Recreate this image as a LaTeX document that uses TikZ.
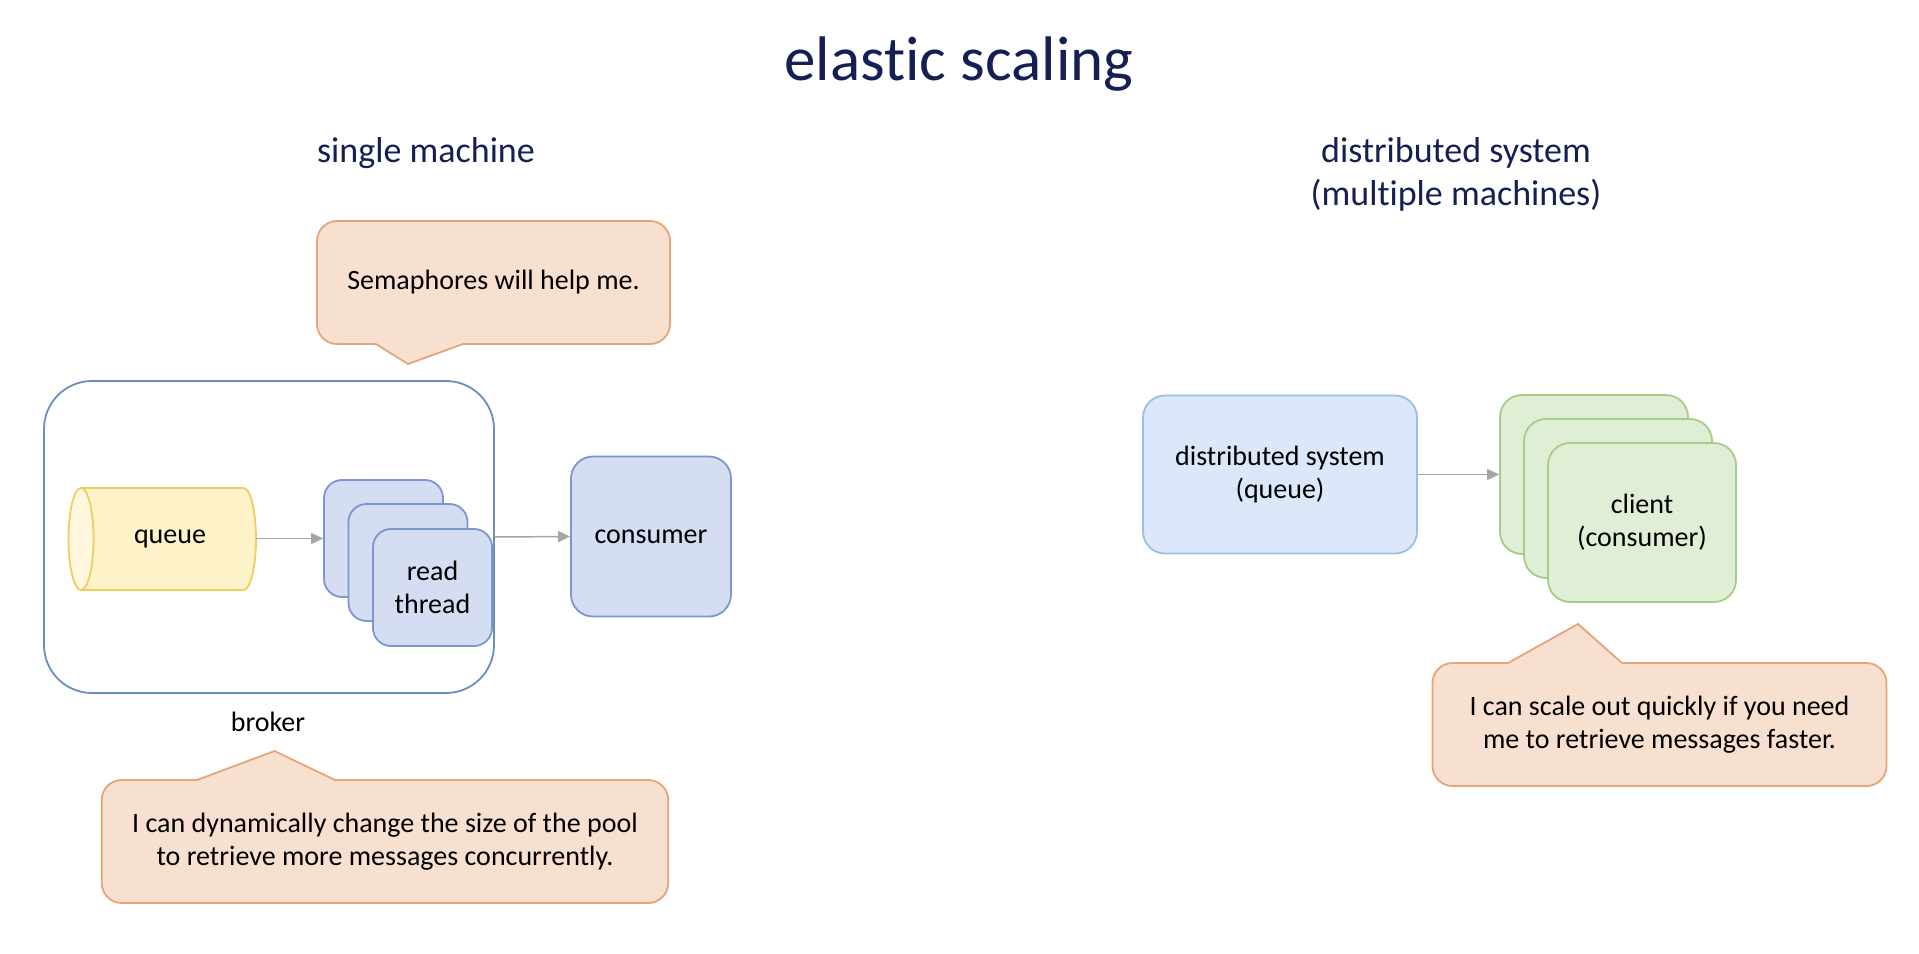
\documentclass[tikz,border=0pt]{standalone}
\usepackage{fontspec}
\setmainfont{Carlito}[Ligatures={NoCommon,NoContextual}]
\usetikzlibrary{arrows.meta}
\definecolor{navy}{RGB}{20,32,84}
\definecolor{cfill}{RGB}{248,224,208}
\definecolor{cline}{RGB}{230,165,120}
\definecolor{brokerline}{RGB}{108,142,191}
\definecolor{tfill}{RGB}{212,221,242}
\definecolor{tline}{RGB}{125,150,205}
\definecolor{dfill}{RGB}{218,232,250}
\definecolor{dline}{RGB}{160,188,228}
\definecolor{gfill}{RGB}{224,238,214}
\definecolor{gline}{RGB}{165,205,135}
\definecolor{qfill}{RGB}{253,242,200}
\definecolor{qend}{RGB}{255,247,222}
\definecolor{qline}{RGB}{240,205,95}
\definecolor{arrgray}{RGB}{165,165,165}
\begin{document}
\begin{tikzpicture}[x=1pt,y=-1pt,
  bodyfont/.style={font=\fontsize{28}{33}\selectfont},
  heading/.style={font=\fontsize{36}{43}\selectfont, text=navy},
  box/.style={draw, line width=1.8pt, rounded corners=20pt, inner sep=0pt, align=center, bodyfont},
  threadbox/.style={box, fill=tfill, draw=tline, minimum width=119pt, minimum height=117pt, rounded corners=18pt},
  greenbox/.style={box, fill=gfill, draw=gline, minimum width=188pt, minimum height=159pt, rounded corners=22pt},
  callbox/.style={box, fill=cfill, draw=cline},
  callline/.style={draw=cline, line width=1.8pt, line join=miter},
  arr/.style={draw=arrgray, line width=1.5pt, -{Triangle[length=12pt,width=11pt]}}]
\useasboundingbox (0,0) rectangle (1919,953);
\fill[white] (0,0) rectangle (1919,953);

% title and headings
\node[anchor=base, text=navy, font=\fontsize{63}{75}\selectfont] (title) at (959,80) {elastic scaling};
\node[anchor=base, heading] (hsingle) at (426,162) {single machine};
\node[anchor=base, heading] (hdist1) at (1456,162) {distributed system};
\node[anchor=base, heading] (hdist2) at (1456,205) {(multiple machines)};

% semaphore callout (pointer below)
\node[callbox, minimum width=353pt, minimum height=123pt] (sem) at (493.5,282.5) {Semaphores will help me.};
\fill[cfill] (376,341) -- (376,344) -- (408,364) -- (463,344) -- (463,341) -- cycle;
\draw[callline] (376,344) -- (408,364) -- (463,344);

% broker
\node[draw=brokerline, line width=1.8pt, rounded corners=48pt, minimum width=450pt, minimum height=312pt, inner sep=0pt] (broker) at (269,537) {};
\node[anchor=base, bodyfont] (brokerlabel) at (268,731) {broker};

% queue cylinder
\path[fill=qfill, draw=qline, line width=1.8pt] (81,488) -- (243.5,488) arc[start angle=-90, end angle=90, x radius=12.5, y radius=51] -- (81,590) -- cycle;
\draw[fill=qend, draw=qline, line width=1.8pt] (81,539) ellipse[x radius=12.5, y radius=51];
\node[bodyfont, minimum width=172pt, inner sep=0pt] (queue) at (170,538.5) {queue};

% read threads
\node[threadbox] (t1) at (383.5,538.5) {};
\node[threadbox] (t2) at (408,562.5) {};
\node[threadbox] (t3) at (432.5,587.5) {read\\thread};

% consumer
\node[box, fill=tfill, draw=tline, minimum width=160pt, minimum height=160pt, rounded corners=22pt] (consumer) at (651,536.5) {consumer};

\draw[arr] (queue.east) -- (t1.west);
\draw[arr] (broker.east) -- (consumer.west);

% bottom-left callout (pointer above)
\node[callbox, minimum width=566.5pt, minimum height=123pt] (pool) at (385,841.5) {I can dynamically change the size of the pool\\to retrieve more messages concurrently.};
\fill[cfill] (197,783) -- (197,780) -- (274.5,751) -- (335,780) -- (335,783) -- cycle;
\draw[callline] (197,780) -- (274.5,751) -- (335,780);

% distributed side
\node[box, fill=dfill, draw=dline, minimum width=274pt, minimum height=158pt, rounded corners=22pt] (dist) at (1280,474.5) {distributed system\\(queue)};
\node[greenbox] (g1) at (1594,474.5) {};
\node[greenbox] (g2) at (1618,498.5) {};
\node[greenbox] (g3) at (1642,522.5) {client\\(consumer)};
\draw[arr] (dist.east) -- (g1.west);

% right callout (pointer above)
\node[callbox, minimum width=454pt, minimum height=123pt] (scale) at (1659.5,724.5) {I can scale out quickly if you need\\me to retrieve messages faster.};
\fill[cfill] (1508,666) -- (1508,663) -- (1578,624) -- (1622,663) -- (1622,666) -- cycle;
\draw[callline] (1508,663) -- (1578,624) -- (1622,663);
\end{tikzpicture}
\end{document}
